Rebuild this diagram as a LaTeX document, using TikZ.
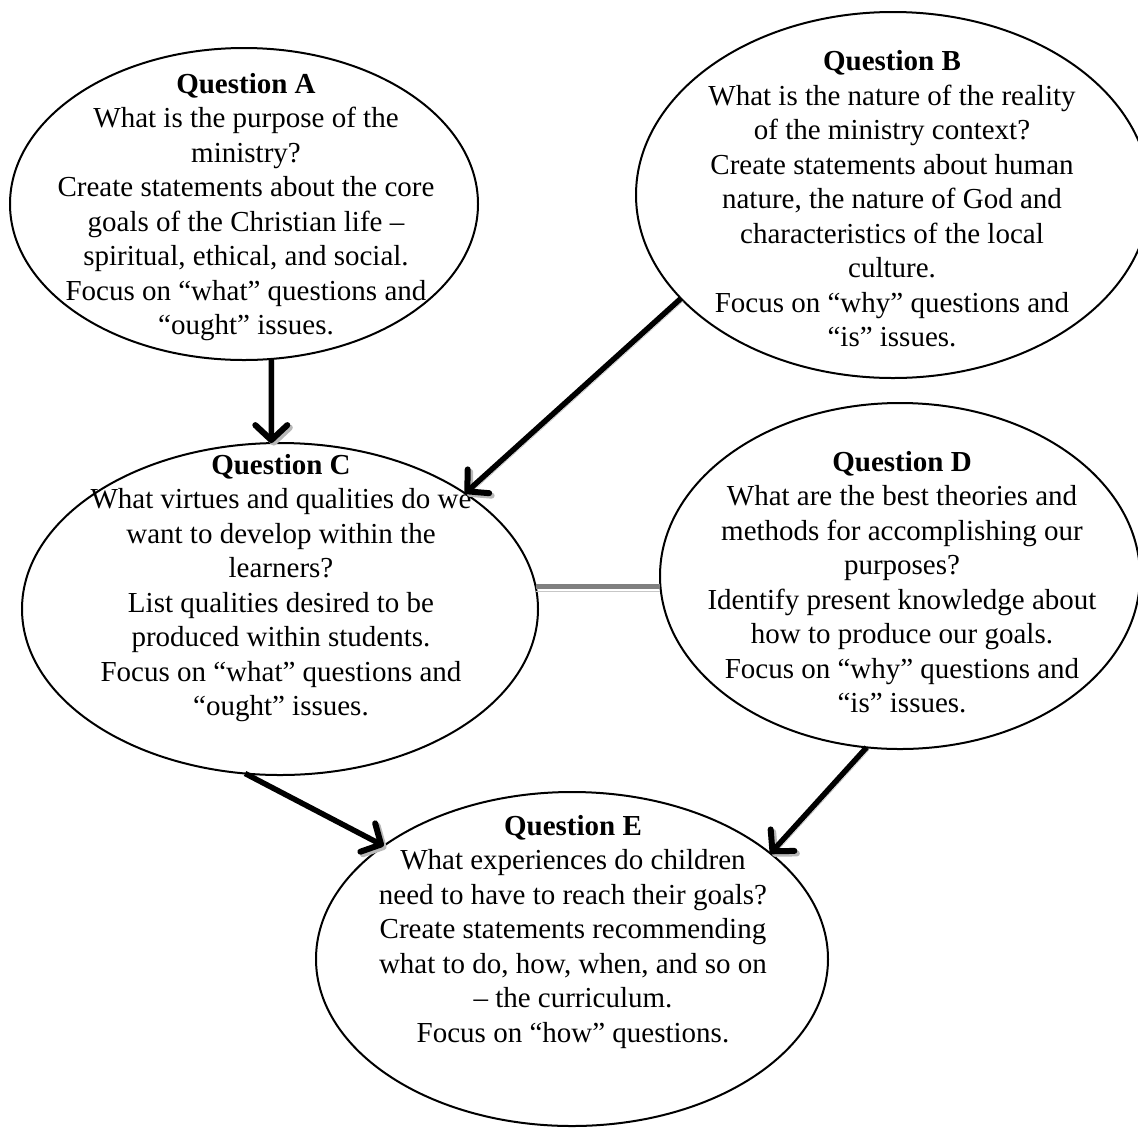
\documentclass[tikz,border=0pt]{standalone}
\usepackage{fontspec}
\setmainfont{Liberation Serif}
\usetikzlibrary{arrows.meta,shapes.geometric}
\begin{document}
\begin{tikzpicture}[x=1pt,y=-1pt,
  bubble/.style={draw, ellipse, line width=2pt, inner sep=0pt, outer sep=0pt},
  qtext/.style={align=center, font=\fontsize{29}{34.5}\selectfont, inner sep=0pt},
  link/.style={line width=5.5pt,
    -{Straight Barb[length=15pt,width=32pt,line width=6pt,round]},
    preaction={draw=black!28, transform canvas={shift={(2.5pt,-2.5pt)}}}},
  bridge/.style={line width=5pt, draw=black!50,
    preaction={draw=black!22, transform canvas={shift={(0pt,-4.5pt)}}}}
  ]
  \useasboundingbox[fill=white] (0,0) rectangle (1138,1128);
  \clip (0,0) rectangle (1138,1128);

  % the five question bubbles
  \node[bubble, minimum width=468pt, minimum height=312pt] (qa) at (244,204) {};
  \node[bubble, minimum width=514pt, minimum height=366pt] (qb) at (893,195) {};
  \node[bubble, minimum width=516pt, minimum height=332pt] (qc) at (280,609) {};
  \node[bubble, minimum width=480pt, minimum height=346pt] (qd) at (900,576) {};
  \node[bubble, minimum width=512pt, minimum height=334pt] (qe) at (572,959) {};

  % their texts
  \node[qtext] (ta) at (246,207) {\textbf{Question A}\\What is the purpose of the\\ministry?\\Create statements about the core\\goals of the Christian life –\\spiritual, ethical, and social.\\Focus on “what” questions and\\“ought” issues.};
  \node[qtext] (tb) at (892,199) {\textbf{Question B}\\What is the nature of the reality\\of the ministry context?\\Create statements about human\\nature, the nature of God and\\characteristics of the local\\culture.\\Focus on “why” questions and\\“is” issues.};
  \node[qtext] (tc) at (281,588) {\textbf{Question C}\\What virtues and qualities do we\\want to develop within the\\learners?\\List qualities desired to be\\produced within students.\\Focus on “what” questions and\\“ought” issues.};
  \node[qtext] (td) at (902,582) {\textbf{Question D}\\What are the best theories and\\methods for accomplishing our\\purposes?\\Identify present knowledge about\\how to produce our goals.\\Focus on “why” questions and\\“is” issues.};
  \node[qtext] (te) at (573,932) {\textbf{Question E}\\What experiences do children\\need to have to reach their goals?\\Create statements recommending\\what to do, how, when, and so on\\– the curriculum.\\Focus on “how” questions.};

  % connectors
  \draw[bridge] (qc.5.83) -- (qc.5.83 -| qd.west);
  \draw[link] (qa.-80.2) -- (qc.93.1);
  \draw[link] (qb.-154.1) -- (qc.32.3);
  \draw[link] (qc.-102.7) -- (qe.149.4);
  \draw[link] (qd.-101.2) -- (qe.28.2);
\end{tikzpicture}
\end{document}
